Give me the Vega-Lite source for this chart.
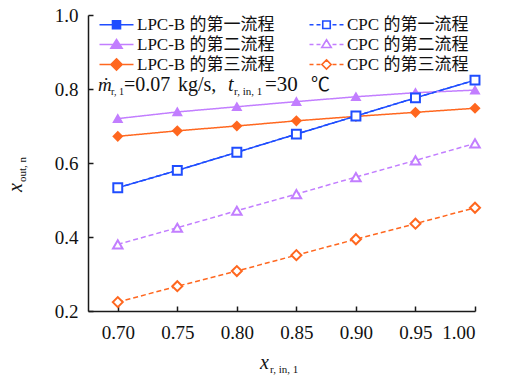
{
  "$schema": "https://vega.github.io/schema/vega-lite/v6.json",
  "width": 387,
  "height": 296,
  "autosize": "none",
  "padding": {"left": 88, "top": 15, "right": 31, "bottom": 66},
  "background": "white",
  "config": {
    "view": {"stroke": null},
    "font": "Liberation Serif",
    "axis": {
      "grid": false,
      "title": null,
      "domainColor": "#1a1a1a",
      "domainWidth": 1.5,
      "tickColor": "#1a1a1a",
      "tickWidth": 1.5,
      "tickSize": -5,
      "labelFont": "Liberation Serif",
      "labelFontSize": 19,
      "labelColor": "#111"
    },
    "legend": {
      "orient": "none",
      "legendX": 20,
      "legendY": 1,
      "columns": 2,
      "title": null,
      "symbolSize": 100,
      "symbolStrokeWidth": 1.6,
      "symbolOpacity": 1,
      "labelFont": "Liberation Serif, Noto Sans CJK SC",
      "labelFontSize": 17,
      "labelColor": "#111",
      "labelOffset": 12,
      "columnPadding": 31,
      "rowPadding": 2
    }
  },
  "data": {
    "values": [
      {"series": "LPC-B 的第一流程", "xin": 0.70, "xout": 0.533},
      {"series": "LPC-B 的第一流程", "xin": 0.75, "xout": 0.580},
      {"series": "LPC-B 的第一流程", "xin": 0.80, "xout": 0.629},
      {"series": "LPC-B 的第一流程", "xin": 0.85, "xout": 0.678},
      {"series": "LPC-B 的第一流程", "xin": 0.90, "xout": 0.727},
      {"series": "LPC-B 的第一流程", "xin": 0.95, "xout": 0.776},
      {"series": "LPC-B 的第一流程", "xin": 1.00, "xout": 0.824},
      {"series": "LPC-B 的第二流程", "xin": 0.70, "xout": 0.720},
      {"series": "LPC-B 的第二流程", "xin": 0.75, "xout": 0.738},
      {"series": "LPC-B 的第二流程", "xin": 0.80, "xout": 0.752},
      {"series": "LPC-B 的第二流程", "xin": 0.85, "xout": 0.766},
      {"series": "LPC-B 的第二流程", "xin": 0.90, "xout": 0.779},
      {"series": "LPC-B 的第二流程", "xin": 0.95, "xout": 0.790},
      {"series": "LPC-B 的第二流程", "xin": 1.00, "xout": 0.797},
      {"series": "LPC-B 的第三流程", "xin": 0.70, "xout": 0.672},
      {"series": "LPC-B 的第三流程", "xin": 0.75, "xout": 0.687},
      {"series": "LPC-B 的第三流程", "xin": 0.80, "xout": 0.700},
      {"series": "LPC-B 的第三流程", "xin": 0.85, "xout": 0.714},
      {"series": "LPC-B 的第三流程", "xin": 0.90, "xout": 0.726},
      {"series": "LPC-B 的第三流程", "xin": 0.95, "xout": 0.737},
      {"series": "LPC-B 的第三流程", "xin": 1.00, "xout": 0.748},
      {"series": "CPC 的第一流程", "xin": 0.70, "xout": 0.533},
      {"series": "CPC 的第一流程", "xin": 0.75, "xout": 0.580},
      {"series": "CPC 的第一流程", "xin": 0.80, "xout": 0.629},
      {"series": "CPC 的第一流程", "xin": 0.85, "xout": 0.678},
      {"series": "CPC 的第一流程", "xin": 0.90, "xout": 0.727},
      {"series": "CPC 的第一流程", "xin": 0.95, "xout": 0.776},
      {"series": "CPC 的第一流程", "xin": 1.00, "xout": 0.824},
      {"series": "CPC 的第二流程", "xin": 0.70, "xout": 0.380},
      {"series": "CPC 的第二流程", "xin": 0.75, "xout": 0.425},
      {"series": "CPC 的第二流程", "xin": 0.80, "xout": 0.471},
      {"series": "CPC 的第二流程", "xin": 0.85, "xout": 0.516},
      {"series": "CPC 的第二流程", "xin": 0.90, "xout": 0.562},
      {"series": "CPC 的第二流程", "xin": 0.95, "xout": 0.607},
      {"series": "CPC 的第二流程", "xin": 1.00, "xout": 0.653},
      {"series": "CPC 的第三流程", "xin": 0.70, "xout": 0.224},
      {"series": "CPC 的第三流程", "xin": 0.75, "xout": 0.267},
      {"series": "CPC 的第三流程", "xin": 0.80, "xout": 0.308},
      {"series": "CPC 的第三流程", "xin": 0.85, "xout": 0.351},
      {"series": "CPC 的第三流程", "xin": 0.90, "xout": 0.394},
      {"series": "CPC 的第三流程", "xin": 0.95, "xout": 0.436},
      {"series": "CPC 的第三流程", "xin": 1.00, "xout": 0.479}
    ]
  },
  "encoding": {
    "x": {
      "type": "quantitative",
      "scale": {"domain": [0.675, 1.0], "nice": false, "zero": false},
      "axis": {"values": [0.70, 0.75, 0.80, 0.85, 0.90, 0.95, 1.00], "format": ".2f", "labelPadding": 17}
    },
    "y": {
      "type": "quantitative",
      "scale": {"domain": [0.2, 1.0], "nice": false, "zero": false},
      "axis": {"values": [0.2, 0.4, 0.6, 0.8, 1.0], "format": ".1f", "labelPadding": 15}
    }
  },
  "layer": [
    {
      "mark": {"type": "line", "strokeWidth": 1.5},
      "encoding": {
        "x": {"field": "xin", "type": "quantitative"},
        "y": {"field": "xout", "type": "quantitative"},
        "detail": {"field": "series"},
        "color": {
          "field": "series", "type": "nominal", "legend": null,
          "scale": {
            "domain": ["LPC-B 的第一流程", "LPC-B 的第二流程", "LPC-B 的第三流程", "CPC 的第一流程", "CPC 的第二流程", "CPC 的第三流程"],
            "range": ["#1f4dff", "#c27eff", "#ff671f", "#1f4dff", "#c27eff", "#ff671f"]
          }
        },
        "strokeDash": {
          "field": "series", "type": "nominal", "legend": null,
          "scale": {
            "domain": ["LPC-B 的第一流程", "LPC-B 的第二流程", "LPC-B 的第三流程", "CPC 的第一流程", "CPC 的第二流程", "CPC 的第三流程"],
            "range": [[1, 0], [1, 0], [1, 0], [5, 3], [5, 3], [5, 3]]
          }
        }
      }
    },
    {
      "mark": {"type": "point", "opacity": 1, "strokeWidth": 2},
      "encoding": {
        "x": {"field": "xin", "type": "quantitative"},
        "y": {"field": "xout", "type": "quantitative"},
        "shape": {
          "field": "series", "type": "nominal", "legend": null,
          "scale": {
            "domain": ["LPC-B 的第一流程", "LPC-B 的第二流程", "LPC-B 的第三流程", "CPC 的第一流程", "CPC 的第二流程", "CPC 的第三流程"],
            "range": ["square", "triangle-up", "diamond", "square", "triangle-up", "diamond"]
          }
        },
        "size": {
          "field": "series", "type": "nominal", "legend": null,
          "scale": {
            "domain": ["LPC-B 的第一流程", "LPC-B 的第二流程", "LPC-B 的第三流程", "CPC 的第一流程", "CPC 的第二流程", "CPC 的第三流程"],
            "range": [49, 100, 115, 36, 80, 70]
          }
        },
        "fill": {
          "field": "series", "type": "nominal", "legend": null,
          "scale": {
            "domain": ["LPC-B 的第一流程", "LPC-B 的第二流程", "LPC-B 的第三流程", "CPC 的第一流程", "CPC 的第二流程", "CPC 的第三流程"],
            "range": ["#1f4dff", "#c27eff", "#ff671f", "#ffffff", "#ffffff", "#ffffff"]
          }
        },
        "stroke": {
          "field": "series", "type": "nominal", "legend": null,
          "scale": {
            "domain": ["LPC-B 的第一流程", "LPC-B 的第二流程", "LPC-B 的第三流程", "CPC 的第一流程", "CPC 的第二流程", "CPC 的第三流程"],
            "range": ["#1f4dff", "#c27eff", "#ff671f", "#1f4dff", "#c27eff", "#ff671f"]
          }
        }
      }
    },
    {
      "transform": [{"filter": "false"}],
      "mark": {"type": "point", "opacity": 1, "strokeWidth": 1.6},
      "encoding": {
        "x": {"field": "xin", "type": "quantitative"},
        "y": {"field": "xout", "type": "quantitative"},
        "shape": {
          "field": "series", "type": "nominal",
          "scale": {
            "domain": ["LPC-B 的第一流程", "LPC-B 的第二流程", "LPC-B 的第三流程", "CPC 的第一流程", "CPC 的第二流程", "CPC 的第三流程"],
            "range": [
              "M-3.4,0L3.4,0M-0.8,-0.8L0.8,-0.8L0.8,0.8L-0.8,0.8Z",
              "M-3.4,0L3.4,0M0,-1.02L1.12,0.75L-1.12,0.75Z",
              "M-3.4,0L3.4,0M0,-1.12L1.12,0L0,1.12L-1.12,0Z",
              "M-3.4,0L-2.6,0M-2.0,0L-1.2,0M1.2,0L2.0,0M2.6,0L3.4,0M-0.75,-0.75L0.75,-0.75L0.75,0.75L-0.75,0.75Z",
              "M-3.4,0L-2.6,0M-2.0,0L-1.2,0M1.2,0L2.0,0M2.6,0L3.4,0M0,-0.95L0.95,0.6L-0.95,0.6Z",
              "M-3.4,0L-2.6,0M-2.0,0L-1.2,0M1.2,0L2.0,0M2.6,0L3.4,0M0,-0.92L0.92,0L0,0.92L-0.92,0Z"
            ]
          }
        },
        "fill": {
          "field": "series", "type": "nominal",
          "scale": {
            "domain": ["LPC-B 的第一流程", "LPC-B 的第二流程", "LPC-B 的第三流程", "CPC 的第一流程", "CPC 的第二流程", "CPC 的第三流程"],
            "range": ["#1f4dff", "#c27eff", "#ff671f", "#ffffff", "#ffffff", "#ffffff"]
          }
        },
        "stroke": {
          "field": "series", "type": "nominal",
          "scale": {
            "domain": ["LPC-B 的第一流程", "LPC-B 的第二流程", "LPC-B 的第三流程", "CPC 的第一流程", "CPC 的第二流程", "CPC 的第三流程"],
            "range": ["#1f4dff", "#c27eff", "#ff671f", "#1f4dff", "#c27eff", "#ff671f"]
          }
        }
      }
    },
    {
      "data": {"values": [{}]},
      "mark": {"type": "text", "align": "left", "baseline": "alphabetic", "font": "Liberation Serif, DejaVu Serif", "fontSize": 19, "fontStyle": "italic", "color": "#111"},
      "encoding": {"x": {"datum": 0.6834}, "y": {"datum": 0.795}, "text": {"value": "ṁ"}}
    },
    {
      "data": {"values": [{}]},
      "mark": {"type": "text", "align": "left", "baseline": "alphabetic", "fontSize": 10, "dx": 13, "dy": 4, "color": "#111"},
      "encoding": {"x": {"datum": 0.6834}, "y": {"datum": 0.795}, "text": {"value": "r, 1"}}
    },
    {
      "data": {"values": [{}]},
      "mark": {"type": "text", "align": "left", "baseline": "alphabetic", "fontSize": 20, "dx": 26, "color": "#111"},
      "encoding": {"x": {"datum": 0.6834}, "y": {"datum": 0.795}, "text": {"value": "=0.07"}}
    },
    {
      "data": {"values": [{}]},
      "mark": {"type": "text", "align": "left", "baseline": "alphabetic", "fontSize": 20, "dx": 80, "color": "#111"},
      "encoding": {"x": {"datum": 0.6834}, "y": {"datum": 0.795}, "text": {"value": "kg/s,"}}
    },
    {
      "data": {"values": [{}]},
      "mark": {"type": "text", "align": "left", "baseline": "alphabetic", "fontSize": 20, "fontStyle": "italic", "dx": 130, "color": "#111"},
      "encoding": {"x": {"datum": 0.6834}, "y": {"datum": 0.795}, "text": {"value": "t"}}
    },
    {
      "data": {"values": [{}]},
      "mark": {"type": "text", "align": "left", "baseline": "alphabetic", "fontSize": 11, "dx": 136, "dy": 4, "color": "#111"},
      "encoding": {"x": {"datum": 0.6834}, "y": {"datum": 0.795}, "text": {"value": "r, in, 1"}}
    },
    {
      "data": {"values": [{}]},
      "mark": {"type": "text", "align": "left", "baseline": "alphabetic", "fontSize": 21, "dx": 167, "color": "#111"},
      "encoding": {"x": {"datum": 0.6834}, "y": {"datum": 0.795}, "text": {"value": "=30"}}
    },
    {
      "data": {"values": [{}]},
      "mark": {"type": "text", "align": "left", "baseline": "alphabetic", "font": "Noto Sans CJK SC", "fontSize": 19, "dx": 213, "color": "#111"},
      "encoding": {"x": {"datum": 0.6834}, "y": {"datum": 0.795}, "text": {"value": "℃"}}
    },
    {
      "data": {"values": [{}]},
      "mark": {"type": "text", "align": "left", "baseline": "alphabetic", "fontSize": 20, "fontStyle": "italic", "color": "#111"},
      "encoding": {"x": {"datum": 0.8194}, "y": {"datum": 0.0432}, "text": {"value": "x"}}
    },
    {
      "data": {"values": [{}]},
      "mark": {"type": "text", "align": "left", "baseline": "alphabetic", "fontSize": 11, "dx": 10, "dy": 4, "color": "#111"},
      "encoding": {"x": {"datum": 0.8194}, "y": {"datum": 0.0432}, "text": {"value": "r, in, 1"}}
    },
    {
      "data": {"values": [{}]},
      "mark": {"type": "text", "align": "left", "baseline": "alphabetic", "angle": 270, "fontSize": 20, "fontStyle": "italic", "color": "#111"},
      "encoding": {"x": {"datum": 0.6196}, "y": {"datum": 0.5216}, "text": {"value": "x"}}
    },
    {
      "data": {"values": [{}]},
      "mark": {"type": "text", "align": "left", "baseline": "alphabetic", "angle": 270, "fontSize": 11, "dx": 10, "dy": 4, "color": "#111"},
      "encoding": {"x": {"datum": 0.6196}, "y": {"datum": 0.5216}, "text": {"value": "out, n"}}
    }
  ],
  "resolve": {
    "scale": {"shape": "independent", "fill": "independent", "stroke": "independent", "color": "independent", "strokeDash": "independent", "size": "independent"}
  }
}
